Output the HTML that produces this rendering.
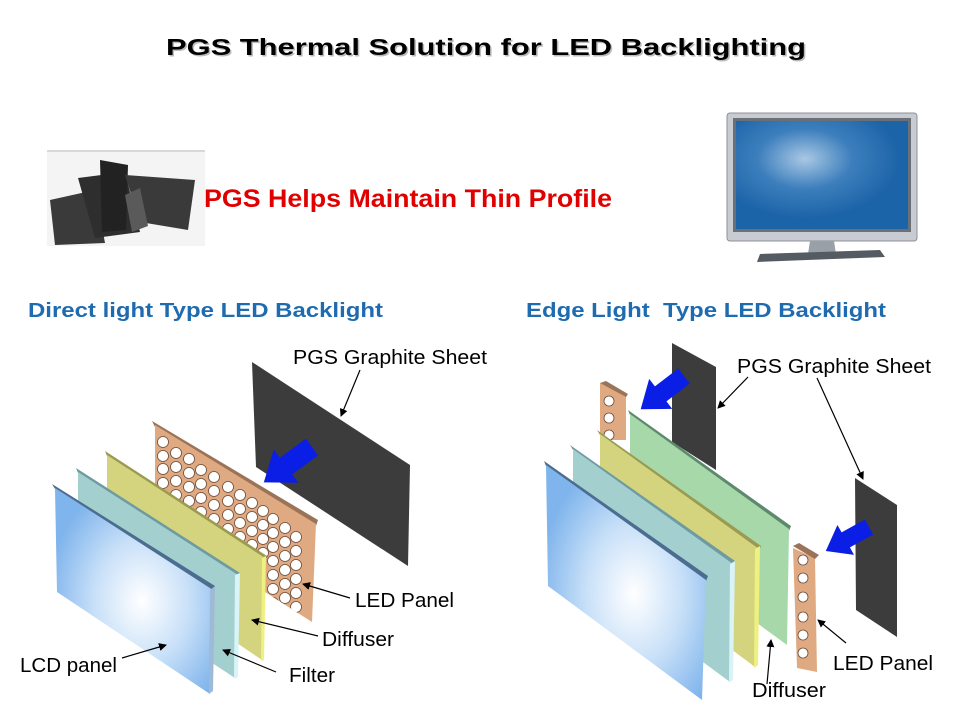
<!DOCTYPE html>
<html><head><meta charset="utf-8"><style>
html,body{margin:0;padding:0;background:#fff;width:960px;height:720px;overflow:hidden}
svg{display:block}
text{font-family:"Liberation Sans",Arial,sans-serif}
</style></head><body>
<svg width="960" height="720" viewBox="0 0 960 720" xmlns="http://www.w3.org/2000/svg">
<defs>
<radialGradient id="lcd" cx="0.55" cy="0.55" r="0.6">
<stop offset="0" stop-color="#ffffff"/><stop offset="0.5" stop-color="#c8e0f8"/><stop offset="1" stop-color="#7fb4ec"/></radialGradient>
<radialGradient id="tv" cx="0.4" cy="0.35" r="0.55">
<stop offset="0" stop-color="#a9c8e4"/><stop offset="0.5" stop-color="#3d7fbd"/><stop offset="1" stop-color="#1c64a8"/></radialGradient>
<clipPath id="ledclip"><polygon points="155,423 316,523 312,622 155,522"/></clipPath>
<marker id="ah" markerWidth="8" markerHeight="8" refX="7" refY="4" orient="auto" markerUnits="userSpaceOnUse"><path d="M0,0 L8,4 L0,8 z" fill="#000"/></marker>
<polygon id="barrow" points="0,-9 28,-9 28,-18 52,0 28,18 28,9 0,9" fill="#0a1ee6"/>
</defs>

<!-- Title -->
<text x="486" y="55" font-family="DejaVu Sans, sans-serif" font-weight="bold" font-size="23" text-anchor="middle" fill="#bbb" textLength="640" lengthAdjust="spacingAndGlyphs" transform="translate(1.5,1.5)">PGS Thermal Solution for LED Backlighting</text>
<text x="486" y="55" font-family="DejaVu Sans, sans-serif" font-weight="bold" font-size="23" text-anchor="middle" fill="#000" textLength="640" lengthAdjust="spacingAndGlyphs">PGS Thermal Solution for LED Backlighting</text>

<!-- Photo of sheets -->
<rect x="47" y="150" width="158" height="96" fill="#f4f4f4"/>
<line x1="47" y1="151" x2="205" y2="151" stroke="#aaa" stroke-width="0.8"/>
<polygon points="50,200 95,190 105,243 55,245" fill="#3a3a3a"/>
<polygon points="78,178 125,172 140,232 95,238" fill="#2e2e2e"/>
<polygon points="100,160 128,165 126,230 102,232" fill="#222"/>
<polygon points="125,175 195,180 188,230 140,222" fill="#3a3a3a"/>
<polygon points="125,195 140,188 148,226 132,232" fill="#5a5a5a"/>

<text x="204" y="207" font-weight="bold" font-size="25" fill="#e00000" textLength="408" lengthAdjust="spacingAndGlyphs">PGS Helps Maintain Thin Profile</text>

<!-- TV -->
<rect x="727" y="113" width="190" height="128" rx="3" fill="#c8ccd2" stroke="#8c9096"/>
<rect x="733" y="118" width="178" height="114" fill="#6a7078"/>
<rect x="736" y="121" width="172" height="108" fill="url(#tv)"/>
<polygon points="810,241 834,241 836,254 808,254" fill="#9aa0a8"/>
<polygon points="760,254 880,250 885,257 757,262" fill="#555b62"/>

<!-- Headings -->
<text x="28" y="317" font-weight="bold" font-size="20" fill="#1f6bb0" textLength="355" lengthAdjust="spacingAndGlyphs">Direct light Type LED Backlight</text>
<text x="526" y="317" font-weight="bold" font-size="20" fill="#1f6bb0" textLength="360" lengthAdjust="spacingAndGlyphs" xml:space="preserve">Edge Light  Type LED Backlight</text>

<!-- LEFT DIAGRAM -->
<polygon points="252,362 410,465 408,566 256,467" fill="#3c3c3c"/>
<polygon points="152,421 318,520 316,526 155,427" fill="#9a7358"/>
<polygon points="155,425 316,524 312,622 155,522" fill="#dfaa82"/>
<g fill="#fff" stroke="#6a4a3a" stroke-width="0.8" clip-path="url(#ledclip)">
<circle cx="163" cy="442" r="5.5"/><circle cx="163" cy="456" r="5.5"/><circle cx="163" cy="469" r="5.5"/><circle cx="163" cy="483" r="5.5"/>
<circle cx="176" cy="453" r="5.5"/><circle cx="176" cy="467" r="5.5"/><circle cx="176" cy="481" r="5.5"/><circle cx="176" cy="495" r="5.5"/>
<circle cx="189" cy="459" r="5.5"/><circle cx="189" cy="473" r="5.5"/><circle cx="189" cy="487" r="5.5"/><circle cx="189" cy="501" r="5.5"/>
<circle cx="201" cy="470" r="5.5"/><circle cx="201" cy="484" r="5.5"/><circle cx="201" cy="498" r="5.5"/><circle cx="201" cy="512" r="5.5"/>
<circle cx="214" cy="477" r="5.5"/><circle cx="214" cy="491" r="5.5"/><circle cx="214" cy="505" r="5.5"/><circle cx="214" cy="519" r="5.5"/>
<circle cx="228" cy="487" r="5.5"/><circle cx="228" cy="501" r="5.5"/><circle cx="228" cy="515" r="5.5"/><circle cx="228" cy="529" r="5.5"/>
<circle cx="240" cy="495" r="5.5"/><circle cx="240" cy="509" r="5.5"/><circle cx="240" cy="523" r="5.5"/><circle cx="240" cy="537" r="5.5"/>
<circle cx="252" cy="503" r="5.5"/><circle cx="252" cy="517" r="5.5"/><circle cx="252" cy="531" r="5.5"/><circle cx="252" cy="545" r="5.5"/>
<circle cx="263" cy="511" r="5.5"/><circle cx="263" cy="525" r="5.5"/><circle cx="263" cy="539" r="5.5"/><circle cx="263" cy="553" r="5.5"/>
<circle cx="273" cy="519" r="5.5"/><circle cx="273" cy="533" r="5.5"/><circle cx="273" cy="547" r="5.5"/><circle cx="273" cy="561" r="5.5"/><circle cx="273" cy="575" r="5.5"/><circle cx="273" cy="589" r="5.5"/><circle cx="273" cy="603" r="5.5"/>
<circle cx="285" cy="528" r="5.5"/><circle cx="285" cy="542" r="5.5"/><circle cx="285" cy="556" r="5.5"/><circle cx="285" cy="570" r="5.5"/><circle cx="285" cy="584" r="5.5"/><circle cx="285" cy="598" r="5.5"/><circle cx="285" cy="612" r="5.5"/>
<circle cx="296" cy="537" r="5.5"/><circle cx="296" cy="551" r="5.5"/><circle cx="296" cy="565" r="5.5"/><circle cx="296" cy="579" r="5.5"/><circle cx="296" cy="593" r="5.5"/><circle cx="296" cy="607" r="5.5"/>
</g>
<!-- blue arrow left -->
<use href="#barrow" transform="translate(312,447) rotate(143.7) scale(1.15)"/>
<!-- yellow -->
<polygon points="105,451 267,556 265,560 107,456" fill="#9a9a50"/>
<polygon points="107,455 265,558 262,660 107,555" fill="#d4d47e"/>
<polygon points="262,558 266,556 264,660 261,661" fill="#eef080"/>
<!-- filter -->
<polygon points="76,468 240,573 238,577 78,473" fill="#6e9aa2"/>
<polygon points="78,472 238,575 235,678 78,575" fill="#a4cfcf"/>
<polygon points="235,575 240,573 238,677 234,679" fill="#d8f4f8"/>
<!-- LCD -->
<polygon points="52,484 215,586 213,591 55,489" fill="#4a6d90"/>
<polygon points="55,488 213,590 210,694 57,592" fill="url(#lcd)"/>
<polygon points="210,590 215,586 213,691 209,694" fill="#9fbad6"/>

<g font-size="20" fill="#000">
<text x="293" y="364" textLength="194" lengthAdjust="spacingAndGlyphs">PGS Graphite Sheet</text>
<text x="355" y="607" textLength="99" lengthAdjust="spacingAndGlyphs">LED Panel</text>
<text x="322" y="646" textLength="72" lengthAdjust="spacingAndGlyphs">Diffuser</text>
<text x="289" y="682" textLength="46" lengthAdjust="spacingAndGlyphs">Filter</text>
<text x="20" y="672" textLength="97" lengthAdjust="spacingAndGlyphs">LCD panel</text>
</g>
<g stroke="#000" stroke-width="1.2" fill="none" marker-end="url(#ah)">
<line x1="360" y1="370" x2="341" y2="416"/>
<line x1="350" y1="598" x2="303" y2="584"/>
<line x1="318" y1="636" x2="252" y2="620"/>
<line x1="276" y1="672" x2="223" y2="650"/>
<line x1="122" y1="658" x2="166" y2="645"/>
</g>

<!-- RIGHT DIAGRAM -->
<polygon points="672,343 716,367 716,470 672,442" fill="#3c3c3c"/>
<polygon points="600,383 626,396 626,440 600,440" fill="#dfaa82"/>
<polygon points="600,383 606,381 628,394 626,397" fill="#9a7358"/>
<g fill="#fff" stroke="#6a4a3a" stroke-width="0.8"><circle cx="609" cy="401" r="5"/><circle cx="609" cy="418" r="5"/><circle cx="609" cy="435" r="5"/></g>
<use href="#barrow" transform="translate(684,376) rotate(142.5) scale(1.05)"/>
<!-- green -->
<polygon points="628,410 791,526 789,531 630,415" fill="#5d8a6c"/>
<polygon points="630,414 789,529 787,645 630,530" fill="#a6d8aa"/>
<!-- yellow -->
<polygon points="597,430 761,546 759,551 600,435" fill="#9a9a50"/>
<polygon points="600,434 759,549 755,667 600,551" fill="#d4d47e"/>
<polygon points="755,549 760,546 758,665 754,668" fill="#eef080"/>
<!-- teal -->
<polygon points="570,445 735,561 733,566 573,450" fill="#6e9aa2"/>
<polygon points="573,449 733,564 730,682 573,566" fill="#a4cfcf"/>
<polygon points="730,564 735,561 733,680 729,683" fill="#d8f4f8"/>
<!-- LCD -->
<polygon points="544,461 708,576 706,581 546,466" fill="#4a6d90"/>
<polygon points="546,465 706,580 702,700 548,586" fill="url(#lcd)"/>
<!-- bottom LED strip -->
<polygon points="793,548 815,558 817,672 797,668" fill="#dfaa82"/>
<polygon points="793,546 799,543 819,555 815,559" fill="#9a7358"/>
<g fill="#fff" stroke="#6a4a3a" stroke-width="0.8">
<circle cx="803" cy="560" r="5"/><circle cx="803" cy="578" r="5"/><circle cx="803" cy="597" r="5"/><circle cx="803" cy="617" r="5"/><circle cx="803" cy="635" r="5"/><circle cx="803" cy="653" r="5"/></g>
<!-- right graphite -->
<polygon points="855,478 897,505 897,637 856,610" fill="#3c3c3c"/>
<use href="#barrow" transform="translate(869,527) rotate(151) scale(0.95)"/>

<g font-size="20" fill="#000">
<text x="737" y="373" textLength="194" lengthAdjust="spacingAndGlyphs">PGS Graphite Sheet</text>
<text x="833" y="670" textLength="100" lengthAdjust="spacingAndGlyphs">LED Panel</text>
<text x="752" y="697" textLength="74" lengthAdjust="spacingAndGlyphs">Diffuser</text>
</g>
<g stroke="#000" stroke-width="1.2" fill="none" marker-end="url(#ah)">
<line x1="748" y1="377" x2="718" y2="408"/>
<line x1="817" y1="378" x2="863" y2="479"/>
<line x1="846" y1="643" x2="818" y2="620"/>
<line x1="767" y1="684" x2="771" y2="640"/>
</g>
</svg>
</body></html>
